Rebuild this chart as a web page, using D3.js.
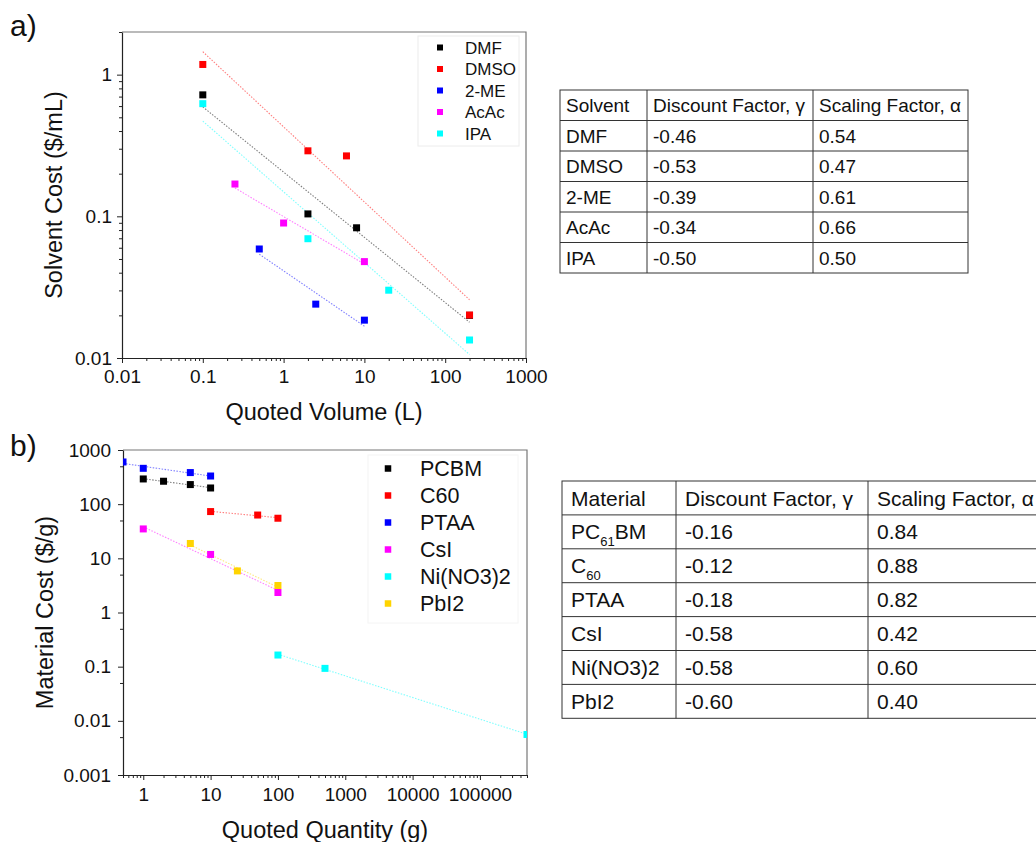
<!DOCTYPE html>
<html>
<head>
<meta charset="utf-8">
<script src="https://cdn.jsdelivr.net/npm/d3@7"></script>
<style>
  body { margin: 0; background: #fff; }
  svg text { font-family: "Liberation Sans", Arial, sans-serif; fill: #111; }
</style>
</head>
<body>
<svg id="fig" width="1036" height="842"></svg>
<script>
// ---- panel a data: solvent cost vs quoted volume ----
var solventNames = ["DMF", "DMSO", "2-ME", "AcAc", "IPA"];
var volDMF = [0.1, 2, 8, 200],      costDMF = [0.72, 0.104, 0.083, 0.02];
var volDMSO = [0.1, 2, 6, 200],     costDMSO = [1.18, 0.29, 0.267, 0.0201];
var vol2ME = [0.5, 2.5, 10],        cost2ME = [0.0588, 0.024, 0.0185];
var volAcAc = [0.25, 1, 10],        costAcAc = [0.169, 0.0897, 0.0479];
var volIPA = [0.1, 2, 20, 200],     costIPA = [0.624, 0.0695, 0.0301, 0.0134];
var volTicks = [0.01, 0.1, 1, 10, 100, 1000];
var volTickLabels = ["0.01", "0.1", "1", "10", "100", "1000"];
var costTicks = [0.01, 0.1, 1];
var costTickLabels = ["0.01", "0.1", "1"];

// ---- panel b data: material cost vs quoted quantity ----
var materialNames = ["PCBM", "C60", "PTAA", "CsI", "Ni(NO3)2", "PbI2"];
var qtyPCBM = [1, 2, 5, 10],        pricePCBM = [292, 265, 230, 199];
var qtyC60 = [10, 50, 100],         priceC60 = [73, 63, 55];
var qtyPTAA = [0.5, 1, 5, 10],      pricePTAA = [601, 459, 383, 331];
var qtyCsI = [1, 10, 100],          priceCsI = [34.9, 11.8, 2.34];
var qtyNi = [100, 500, 500000],     priceNi = [0.164, 0.093, 0.0056];
var qtyPbI2 = [5, 25, 100],         pricePbI2 = [18.8, 5.86, 3.15];
var qtyTicks = [1, 10, 100, 1000, 10000, 100000];
var qtyTickLabels = ["1", "10", "100", "1000", "10000", "100000"];
var priceTicks = [0.001, 0.01, 0.1, 1, 10, 100, 1000];
var priceTickLabels = ["0.001", "0.01", "0.1", "1", "10", "100", "1000"];

var seriesColors = ["#000000", "#ff0000", "#0000ff", "#ff00ff", "#00ffff", "#ffd400"];

// ---- tables ----
var tableHead1 = ["Solvent", "Discount Factor, \u03b3", "Scaling Factor, \u03b1"];
var solventDiscount = ["-0.46", "-0.53", "-0.39", "-0.34", "-0.50"];
var solventScaling = ["0.54", "0.47", "0.61", "0.66", "0.50"];
var tableHead2 = ["Material", "Discount Factor, \u03b3", "Scaling Factor, \u03b1"];
var materialRows = ["PC_61_BM", "C_60_", "PTAA", "CsI", "Ni(NO3)2", "PbI2"];
var materialDiscount = ["-0.16", "-0.12", "-0.18", "-0.58", "-0.58", "-0.60"];
var materialScaling = ["0.84", "0.88", "0.82", "0.42", "0.60", "0.40"];

var svg = d3.select("#fig");

function minorTicks(domain) {
  var out = [];
  var lo = Math.floor(Math.log10(domain[0])), hi = Math.ceil(Math.log10(domain[1]));
  for (var e = lo; e < hi; e++) {
    for (var k = 2; k <= 9; k++) {
      var v = k * Math.pow(10, e);
      if (v >= domain[0] * 0.999 && v <= domain[1] * 1.001) out.push(v);
    }
  }
  return out;
}

// least squares in log-log space
function fitLine(xs, ys) {
  var lx = xs.map(Math.log10), ly = ys.map(Math.log10);
  var mx = d3.mean(lx), my = d3.mean(ly);
  var sxy = d3.sum(lx, function(d, i) { return (d - mx) * (ly[i] - my); });
  var sxx = d3.sum(lx, function(d) { return (d - mx) * (d - mx); });
  var b = sxy / sxx, a = my - b * mx;
  var x0 = d3.min(xs), x1 = d3.max(xs);
  return [[x0, Math.pow(10, a + b * Math.log10(x0))], [x1, Math.pow(10, a + b * Math.log10(x1))]];
}

function drawPanel(p) {
  var x = d3.scaleLog().domain(p.xDomain).range(p.xRange);
  var y = d3.scaleLog().domain(p.yDomain).range(p.yRange);
  var g = svg.append("g");

  g.append("clipPath").attr("id", p.id + "clip")
    .append("rect")
    .attr("x", p.xRange[0]).attr("y", p.yRange[1])
    .attr("width", p.xRange[1] - p.xRange[0]).attr("height", p.yRange[0] - p.yRange[1]);

  // top / right frame
  g.append("path")
    .attr("d", "M" + p.xRange[0] + "," + p.yRange[1] + "H" + p.xRange[1] + "V" + p.yRange[0])
    .attr("fill", "none").attr("stroke", "#777").attr("stroke-width", 1.2);

  // legend box
  g.append("rect")
    .attr("x", p.legend.box[0]).attr("y", p.legend.box[1])
    .attr("width", p.legend.box[2]).attr("height", p.legend.box[3])
    .attr("fill", "#fff").attr("stroke", p.legend.edge);

  // minor ticks
  g.append("g").attr("transform", "translate(0," + p.yRange[0] + ")")
    .call(d3.axisBottom(x).tickValues(minorTicks(p.xDomain)).tickSize(3).tickFormat(""))
    .call(function(s) { s.select(".domain").remove(); });
  g.append("g").attr("transform", "translate(" + p.xRange[0] + ",0)")
    .call(d3.axisLeft(y).tickValues(p.yMinor).tickSize(3).tickFormat(""))
    .call(function(s) { s.select(".domain").remove(); });

  // major ticks + labels
  var xa = g.append("g").attr("transform", "translate(0," + p.yRange[0] + ")")
    .call(d3.axisBottom(x).tickValues(p.xTicks).tickSize(5).tickSizeOuter(0).tickPadding(p.xPad)
      .tickFormat(function(d, i) { return p.xLabels[i]; }));
  var ya = g.append("g").attr("transform", "translate(" + p.xRange[0] + ",0)")
    .call(d3.axisLeft(y).tickValues(p.yTicks).tickSize(5).tickSizeOuter(0).tickPadding(p.yPad)
      .tickFormat(function(d, i) { return p.yLabels[i]; }));
  [xa, ya].forEach(function(a) {
    a.attr("font-size", null).attr("font-family", null);
    a.selectAll("text").style("font-size", p.tickFont + "px").attr("fill", "#111");
    a.select(".domain").attr("stroke", "#222").attr("stroke-width", 1.2);
  });
  g.selectAll("line").attr("stroke", "#222");

  // axis titles
  g.append("text")
    .attr("x", (p.xRange[0] + p.xRange[1]) / 2).attr("y", p.xTitleY)
    .attr("text-anchor", "middle").style("font-size", "23.5px").text(p.xTitle);
  g.append("text")
    .attr("transform", "translate(" + p.yTitleX + "," + (p.yRange[0] + p.yRange[1]) / 2 + ") rotate(-90)")
    .attr("text-anchor", "middle").style("font-size", "23.5px").text(p.yTitle);

  // fit lines, then points
  var plot = g.append("g").attr("clip-path", "url(#" + p.id + "clip)");
  var line = d3.line().x(function(d) { return x(d[0]); }).y(function(d) { return y(d[1]); });
  p.series.forEach(function(s, i) {
    plot.append("path").attr("d", line(fitLine(s.xs, s.ys)))
      .attr("fill", "none").attr("stroke", seriesColors[i]).attr("stroke-opacity", 0.5)
      .attr("stroke-width", 1.1).attr("stroke-dasharray", "1.5,1.5");
  });
  var m = p.marker;
  p.series.forEach(function(s, i) {
    plot.selectAll(null).data(s.xs.map(function(v, j) { return [v, s.ys[j]]; }))
      .enter().append("rect")
      .attr("x", function(d) { return x(d[0]) - m / 2; })
      .attr("y", function(d) { return y(d[1]) - m / 2; })
      .attr("width", m).attr("height", m)
      .attr("fill", seriesColors[i]);
  });

  // legend entries
  var L = p.legend;
  p.series.forEach(function(s, i) {
    var cy = L.y0 + i * L.dy;
    g.append("rect").attr("x", L.mx - L.ms / 2).attr("y", cy - L.ms / 2)
      .attr("width", L.ms).attr("height", L.ms).attr("fill", seriesColors[i]);
    g.append("text").attr("x", L.tx).attr("y", cy).attr("dy", "0.36em")
      .style("font-size", L.font + "px").text(s.name);
  });
}

drawPanel({
  id: "a",
  xDomain: [0.01, 1000], xRange: [122, 526],
  yDomain: [0.01, 2], yRange: [358, 32],
  xTicks: volTicks, xLabels: volTickLabels,
  yTicks: costTicks, yLabels: costTickLabels,
  yMinor: minorTicks([0.01, 2]),
  xPad: 7, yPad: 5, tickFont: 19,
  xTitle: "Quoted Volume (L)", xTitleY: 420,
  yTitle: "Solvent Cost ($/mL)", yTitleX: 62,
  marker: 7,
  series: [
    { name: solventNames[0], xs: volDMF, ys: costDMF },
    { name: solventNames[1], xs: volDMSO, ys: costDMSO },
    { name: solventNames[2], xs: vol2ME, ys: cost2ME },
    { name: solventNames[3], xs: volAcAc, ys: costAcAc },
    { name: solventNames[4], xs: volIPA, ys: costIPA }
  ],
  legend: { box: [418, 36, 101, 110], edge: "#ececec", mx: 440, tx: 465, y0: 47.5, dy: 21.5, ms: 6, font: 17 }
});

drawPanel({
  id: "b",
  xDomain: [0.5, 500000], xRange: [123, 527],
  yDomain: [0.001, 1000], yRange: [775, 450],
  xTicks: qtyTicks, xLabels: qtyTickLabels,
  yTicks: priceTicks, yLabels: priceTickLabels,
  yMinor: [0.005, 0.05, 0.5, 5, 50, 500],
  xPad: 8, yPad: 7, tickFont: 19,
  xTitle: "Quoted Quantity (g)", xTitleY: 838,
  yTitle: "Material Cost ($/g)", yTitleX: 53,
  marker: 7,
  series: [
    { name: materialNames[0], xs: qtyPCBM, ys: pricePCBM },
    { name: materialNames[1], xs: qtyC60, ys: priceC60 },
    { name: materialNames[2], xs: qtyPTAA, ys: pricePTAA },
    { name: materialNames[3], xs: qtyCsI, ys: priceCsI },
    { name: materialNames[4], xs: qtyNi, ys: priceNi },
    { name: materialNames[5], xs: qtyPbI2, ys: pricePbI2 }
  ],
  legend: { box: [368, 455, 150, 168], edge: "#f4f4f4", mx: 388, tx: 420, y0: 468.5, dy: 27, ms: 6.5, font: 21.5 }
});

// panel letters
svg.append("text").attr("x", 10).attr("y", 36).style("font-size", "30px").text("a)");
svg.append("text").attr("x", 10).attr("y", 456).style("font-size", "30px").text("b)");

// tables
function drawTable(t) {
  var g = svg.append("g");
  var rows = t.rows.length + 1;
  var x0 = t.cols[0], x1 = t.cols[t.cols.length - 1];
  g.append("rect").attr("x", x0).attr("y", t.y0).attr("width", x1 - x0).attr("height", rows * t.rh)
    .attr("fill", "none").attr("stroke", "#333");
  d3.range(1, rows).forEach(function(r) {
    g.append("line").attr("x1", x0).attr("x2", x1)
      .attr("y1", t.y0 + r * t.rh).attr("y2", t.y0 + r * t.rh).attr("stroke", "#333");
  });
  t.cols.slice(1, -1).forEach(function(c) {
    g.append("line").attr("x1", c).attr("x2", c)
      .attr("y1", t.y0).attr("y2", t.y0 + rows * t.rh).attr("stroke", "#333");
  });
  var all = [t.head].concat(t.rows);
  var shift = t.font * 0.3;
  all.forEach(function(row, r) {
    row.forEach(function(cell, c) {
      var txt = g.append("text")
        .attr("x", t.cols[c] + t.pad)
        .attr("y", t.y0 + r * t.rh + t.rh / 2).attr("dy", "0.36em")
        .style("font-size", t.font + "px");
      // "_xx_" marks a subscript
      cell.split("_").forEach(function(part, k) {
        if (!part) return;
        var sp = txt.append("tspan").text(part);
        if (k % 2 === 1) sp.style("font-size", (t.font * 0.62) + "px").attr("dy", shift);
        else if (k > 0) sp.attr("dy", -shift);
      });
    });
  });
}

drawTable({
  cols: [560, 647, 813, 968], y0: 90, rh: 30.5, pad: 6, font: 19,
  head: tableHead1,
  rows: solventNames.map(function(n, i) { return [n, solventDiscount[i], solventScaling[i]]; })
});

drawTable({
  cols: [562, 676, 868, 1062], y0: 481, rh: 33.9, pad: 9, font: 21,
  head: tableHead2,
  rows: materialRows.map(function(n, i) { return [n, materialDiscount[i], materialScaling[i]]; })
});
</script>
</body>
</html>
